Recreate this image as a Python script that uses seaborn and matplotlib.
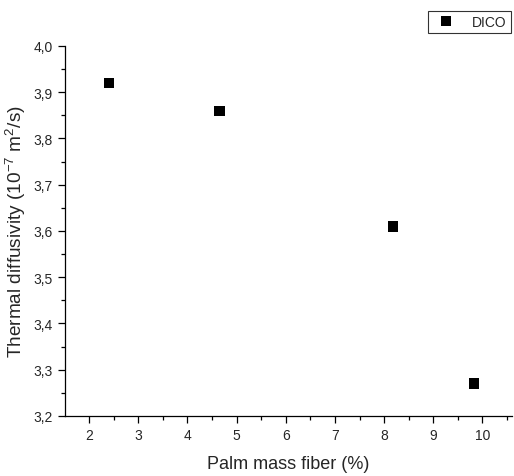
import numpy as np
import pandas as pd
import matplotlib
matplotlib.use("Agg")
import matplotlib.pyplot as plt
from matplotlib.ticker import MultipleLocator, FuncFormatter
import seaborn as sns

# values
fiber = [2.4, 4.65, 8.18, 9.83]
diffusivity = [3.92, 3.86, 3.61, 3.27]
series = ["DICO"] * 4

df = pd.DataFrame({"Palm mass fiber (%)": fiber,
                   "diffusivity": diffusivity,
                   "series": series})

sns.set_style("ticks")
plt.rcParams["font.family"] = ["Liberation Sans", "DejaVu Sans"]
plt.rcParams["mathtext.fontset"] = "custom"
plt.rcParams["mathtext.rm"] = "Liberation Sans"
plt.rcParams["mathtext.it"] = "Liberation Sans:italic"
plt.rcParams["mathtext.default"] = "regular"

fig = plt.figure(figsize=(5.14, 4.77), dpi=100)
ax = fig.add_axes([65 / 514, 1 - 417 / 477, 447 / 514, 370 / 477])

sns.scatterplot(data=df, x="Palm mass fiber (%)", y="diffusivity", hue="series",
                palette=["black"], marker="s", s=55, edgecolor="black",
                linewidth=0, ax=ax)

ax.set_xlim(1.51, 10.6)
ax.set_ylim(3.2, 4.0)
ax.xaxis.set_major_locator(MultipleLocator(1))
ax.xaxis.set_minor_locator(MultipleLocator(0.5))
ax.yaxis.set_major_locator(MultipleLocator(0.1))
ax.yaxis.set_minor_locator(MultipleLocator(0.05))
ax.yaxis.set_major_formatter(FuncFormatter(lambda v, p: f"{v:.1f}".replace(".", ",")))
ax.tick_params(which="major", length=5, width=0.9, labelsize=10, color="black", pad=4)
ax.tick_params(which="minor", length=3, width=0.9, color="black")

for side in ["top", "right"]:
    ax.spines[side].set_visible(False)
for side in ["left", "bottom"]:
    ax.spines[side].set_linewidth(0.9)
    ax.spines[side].set_color("black")

ax.set_xlabel("Palm mass fiber (%)", fontsize=13, labelpad=9)
ax.set_ylabel("Thermal diffusivity (10$^{-7}$ m$^{2}$/s)", fontsize=13.7, labelpad=4)

leg = ax.legend(loc="upper right", bbox_to_anchor=(518 / 514, 1 - 5 / 477),
                bbox_transform=fig.transFigure, frameon=True, fancybox=False,
                fontsize=10, handletextpad=0.9, borderpad=0.3, markerscale=1.0)
leg.get_frame().set_edgecolor("black")
leg.get_frame().set_linewidth(0.8)
leg.set_title(None)

fig.savefig("out.png", dpi=100)
